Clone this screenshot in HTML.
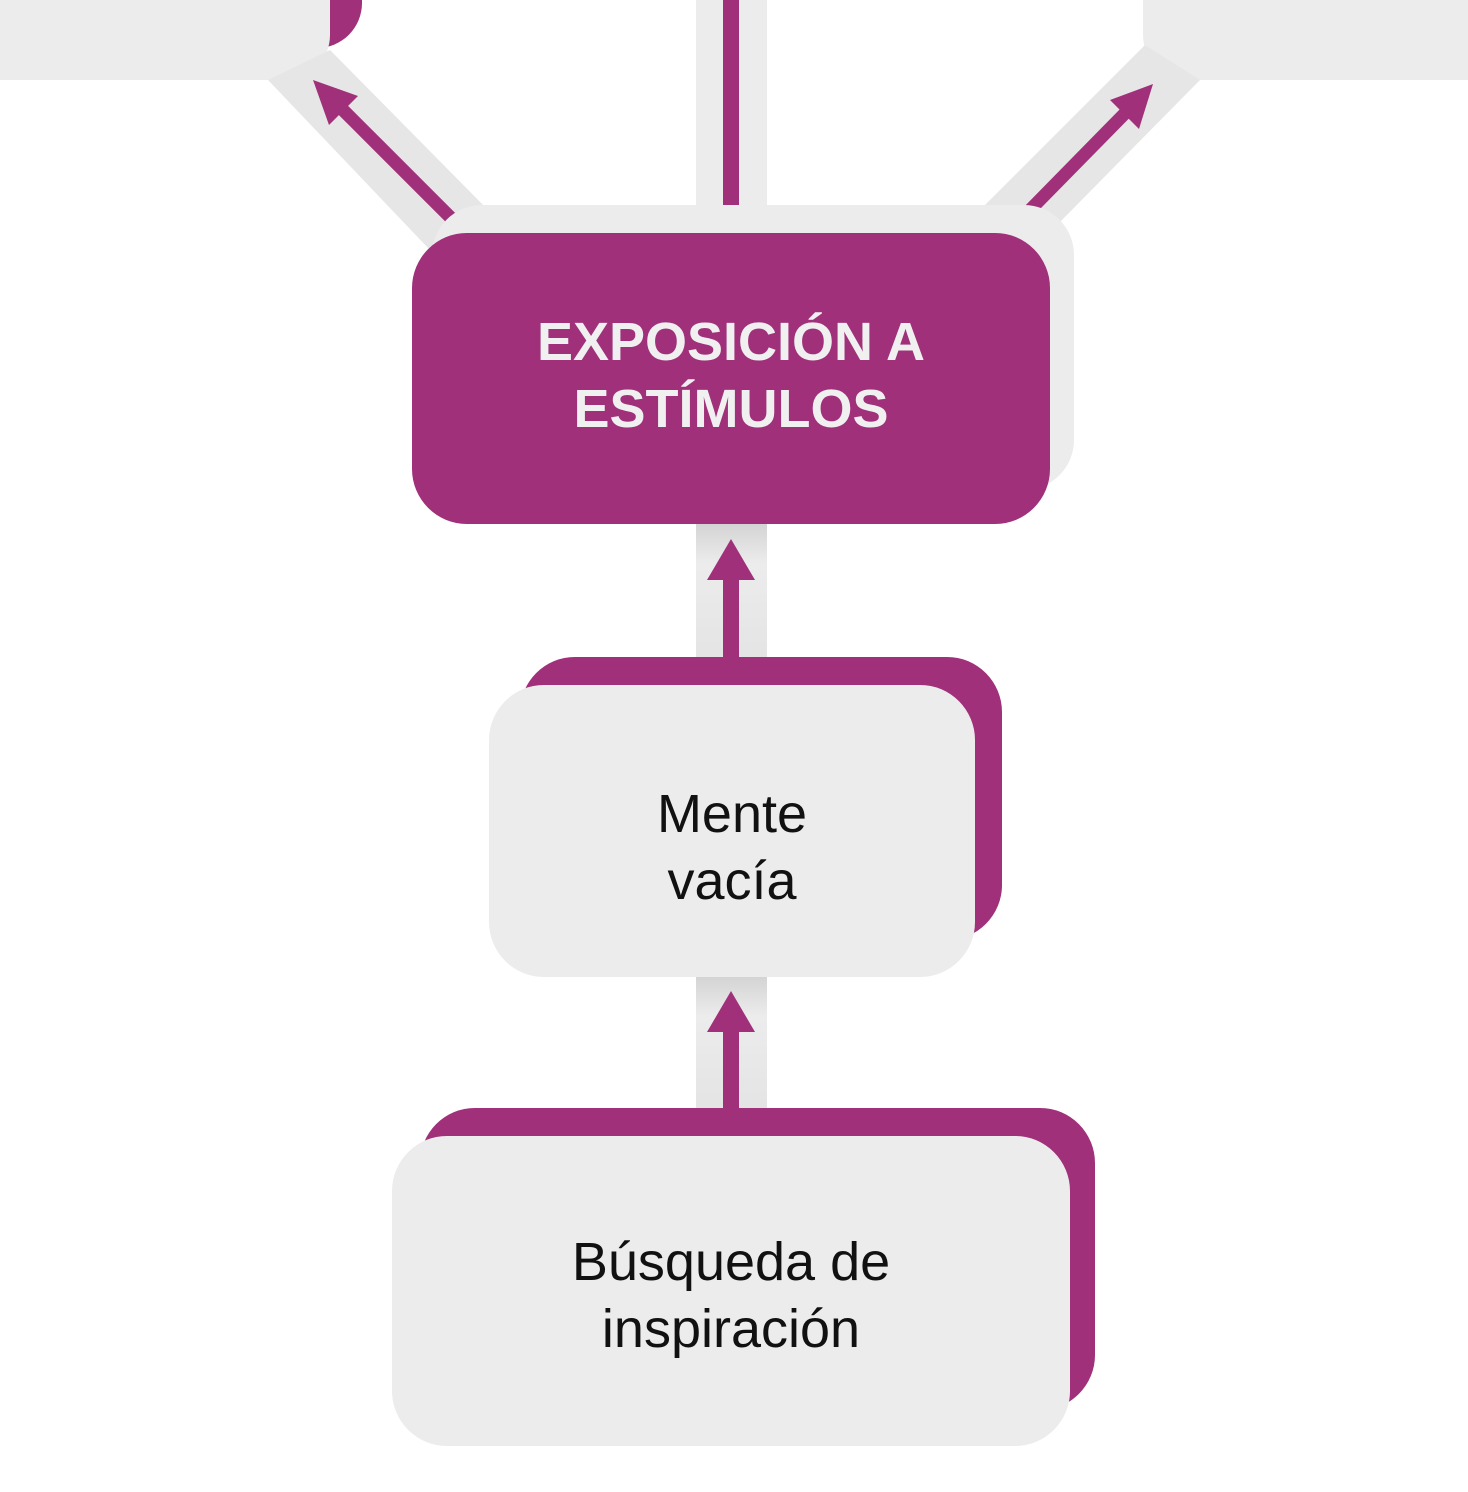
<!DOCTYPE html>
<html><head><meta charset="utf-8"><style>
html,body{margin:0;padding:0;background:#fff;}
body{width:1468px;height:1492px;position:relative;overflow:hidden;font-family:"Liberation Sans",sans-serif;}
svg{position:absolute;left:0;top:0;}
.t{position:absolute;text-align:center;font-size:54px;line-height:67px;}
</style></head><body>
<svg width="1468" height="1492" viewBox="0 0 1468 1492">
<defs>
<linearGradient id="g" x1="0" x2="0" y1="0" y2="1"><stop offset="0" stop-color="#d4d4d4"/><stop offset="0.3" stop-color="#ececec"/><stop offset="1" stop-color="#e4e4e4"/></linearGradient>
</defs>
<!-- top left card -->
<rect x="250" y="-60" width="112" height="108" rx="45" fill="#a0307a"/>
<rect x="-60" y="-60" width="390" height="140" rx="45" fill="#ececec"/>
<!-- top right card -->
<rect x="1143" y="-60" width="390" height="140" rx="45" fill="#ececec"/>
<!-- diagonal bands -->
<polygon points="268,80 330,50 490,212 430,250" fill="#e6e6e6"/>
<polygon points="1200,80 1145,45 980,210 1060,222" fill="#e6e6e6"/>
<line x1="455" y1="222" x2="330" y2="97" stroke="#a0307a" stroke-width="13"/>
<polygon points="313,80 358,96 329,125" fill="#a0307a"/>
<line x1="1030" y1="210" x2="1138" y2="100" stroke="#a0307a" stroke-width="13"/>
<polygon points="1153,84 1139,129 1110,100" fill="#a0307a"/>
<!-- center top band -->
<rect x="696" y="0" width="71" height="210" fill="#ececec"/>
<rect x="723" y="0" width="16" height="210" fill="#a0307a"/>
<!-- exposicion -->
<rect x="432" y="205" width="642" height="285" rx="50" fill="#ececec"/>
<rect x="412" y="233" width="638" height="291" rx="55" fill="#a0307a"/>
<!-- connector 1 -->
<rect x="696" y="524" width="71" height="133" fill="url(#g)"/>
<rect x="723" y="578" width="16" height="80" fill="#a0307a"/>
<polygon points="731,539 707,580 755,580" fill="#a0307a"/>
<!-- mente -->
<rect x="520" y="657" width="482" height="283" rx="55" fill="#a0307a"/>
<rect x="489" y="685" width="486" height="292" rx="55" fill="#ececec"/>
<!-- connector 2 -->
<rect x="696" y="977" width="71" height="131" fill="url(#g)"/>
<rect x="723" y="1030" width="16" height="80" fill="#a0307a"/>
<polygon points="731,991 707,1032 755,1032" fill="#a0307a"/>
<!-- busqueda -->
<rect x="420" y="1108" width="675" height="302" rx="55" fill="#a0307a"/>
<rect x="392" y="1136" width="678" height="310" rx="55" fill="#ececec"/>
</svg>
<div class="t" style="left:412px;width:638px;top:309px;color:#f0f0f0;font-weight:bold;">EXPOSICIÓN A<br>ESTÍMULOS</div>
<div class="t" style="left:489px;width:486px;top:781px;color:#111;">Mente<br>vacía</div>
<div class="t" style="left:392px;width:678px;top:1229px;color:#111;">Búsqueda de<br>inspiración</div>
</body></html>
